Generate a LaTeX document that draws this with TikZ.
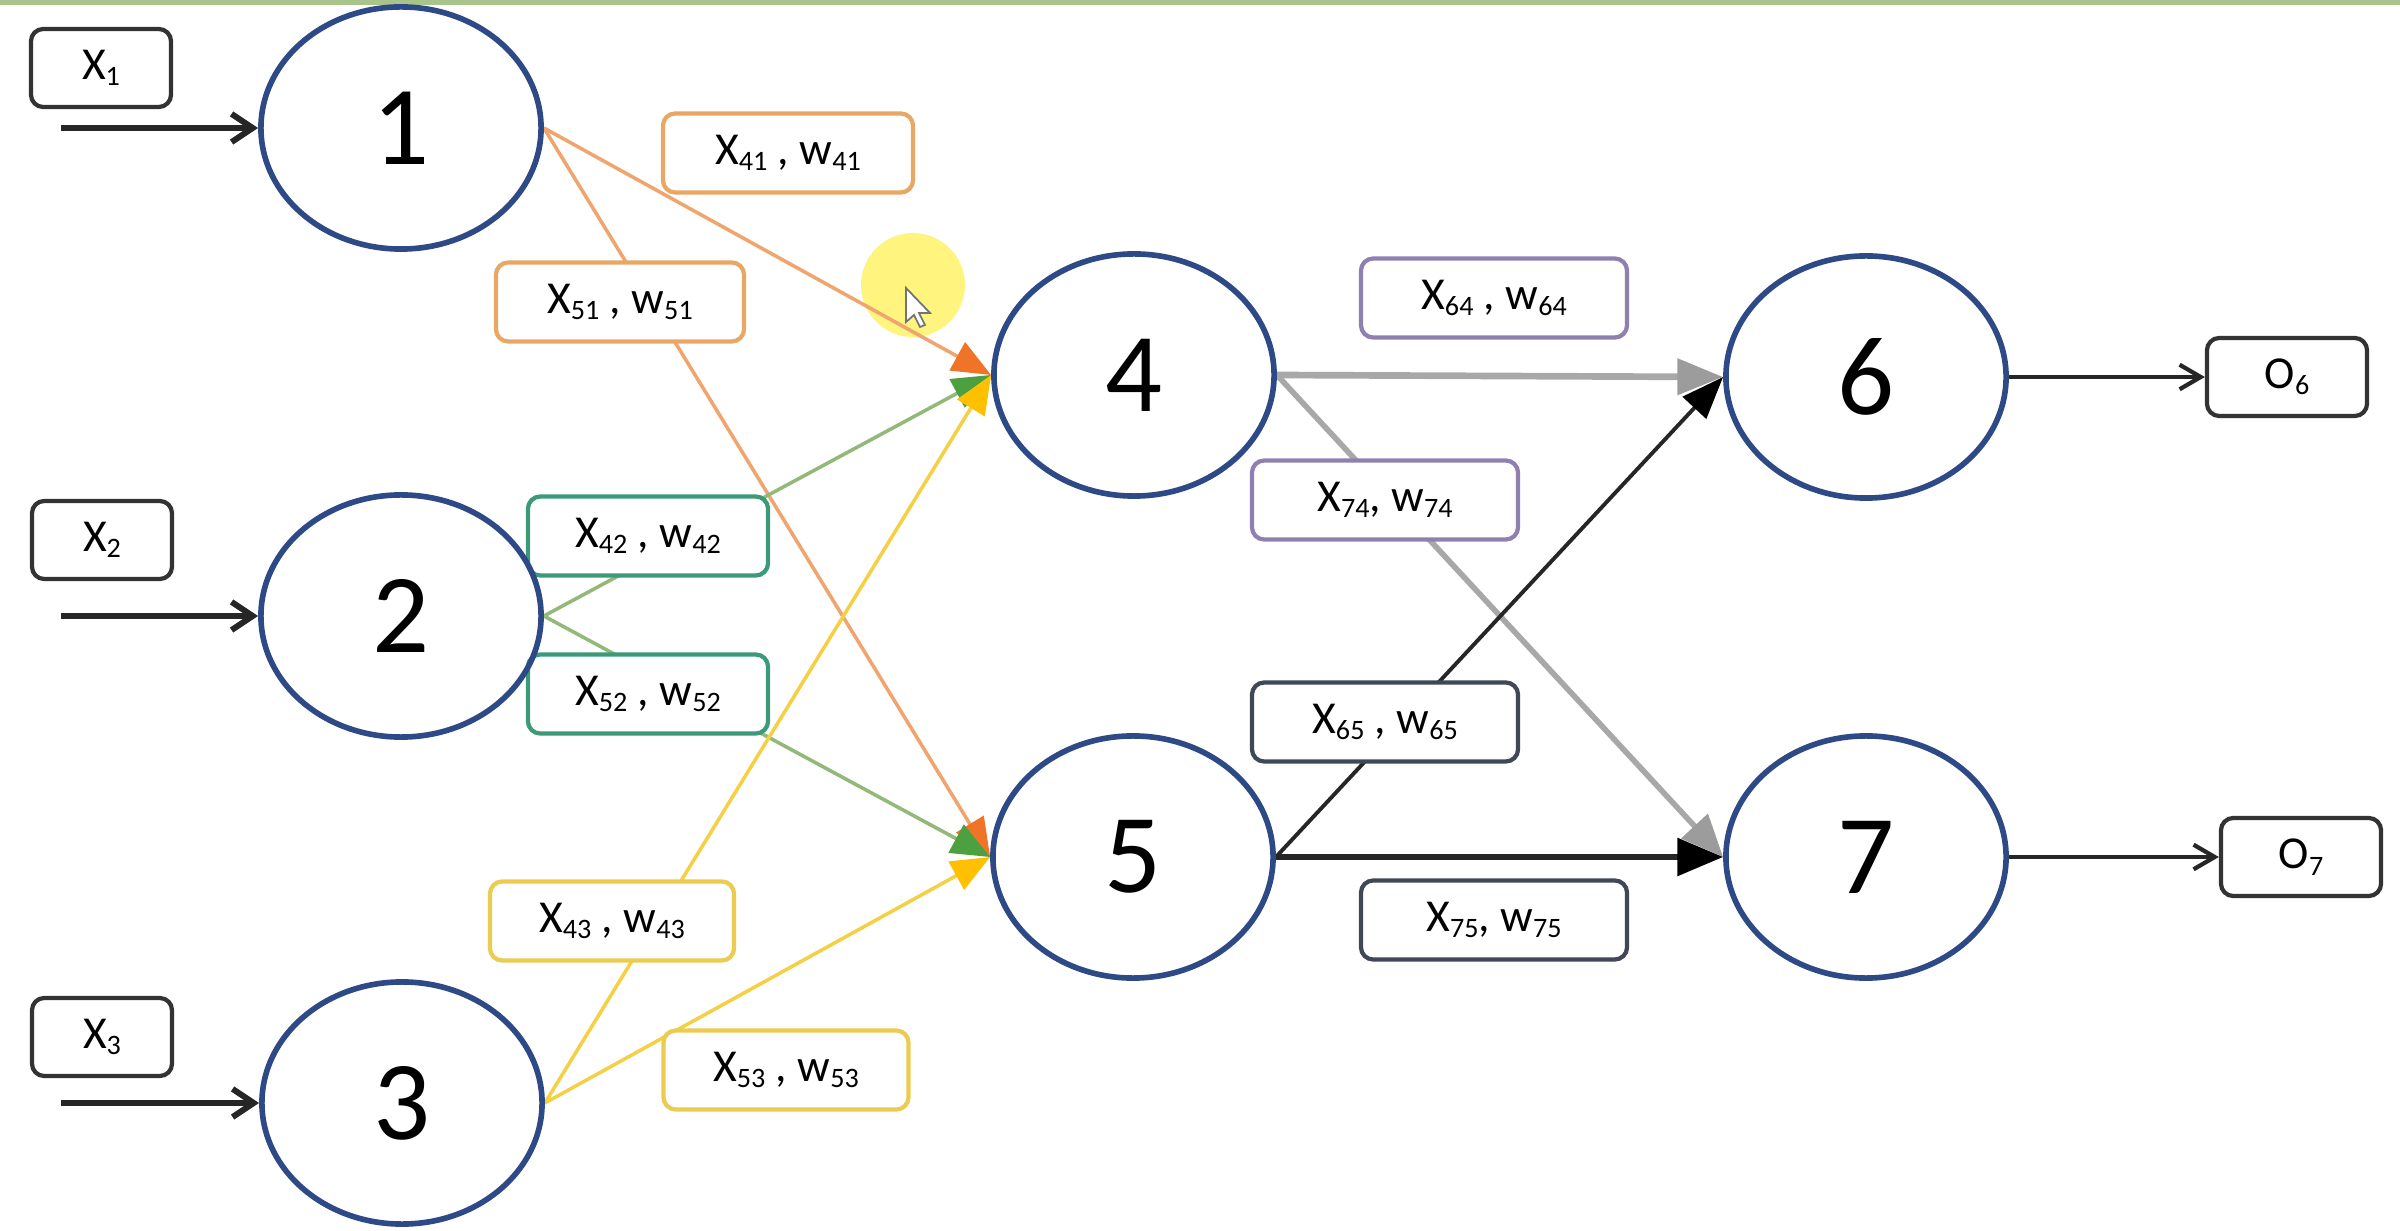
\documentclass[tikz,border=0pt]{standalone}
\usepackage{fontspec}
\setmainfont{Carlito}
\usetikzlibrary{arrows.meta,shapes.geometric}
\pgfdeclarelayer{back}
\pgfsetlayers{back,main}
\definecolor{nodeblue}{HTML}{2E4A86}
\definecolor{boxdark}{HTML}{333333}
\definecolor{orline}{HTML}{F0A46E}
\definecolor{orbox}{HTML}{E9A764}
\definecolor{orhead}{HTML}{F07428}
\definecolor{grline}{HTML}{92B87A}
\definecolor{grbox}{HTML}{3C9A78}
\definecolor{grhead}{HTML}{4CA040}
\definecolor{yeline}{HTML}{F5D045}
\definecolor{yebox}{HTML}{EBCB50}
\definecolor{yehead}{HTML}{FFC000}
\definecolor{pubox}{HTML}{9080B0}
\definecolor{nvbox}{HTML}{404858}
\definecolor{gyline}{HTML}{A8A8A8}
\definecolor{gyhead}{HTML}{9C9C9C}
\definecolor{bkline}{HTML}{262626}
\definecolor{topgreen}{HTML}{A9C48A}
\definecolor{hilite}{HTML}{FFF47E}
\newcommand\sbs[1]{\raisebox{-0.3ex}{\fontsize{8pt}{9pt}\selectfont #1}}
\newcommand\lblfont{\fontsize{13pt}{15pt}\selectfont}
\begin{document}
\begin{tikzpicture}[x=0.01cm,y=-0.01cm,
  neuron/.style={ellipse, draw=nodeblue, line width=1.6pt, minimum width=2.8cm,
    minimum height=2.42cm, inner sep=0pt, font=\fontsize{32pt}{36pt}\selectfont},
  iobox/.style={draw=boxdark, line width=1.2pt, rounded corners=3.5pt, fill=white,
    minimum width=1.4cm, minimum height=0.78cm, inner sep=0pt, font=\lblfont},
  wbox/.style={draw=#1, line width=1.2pt, rounded corners=3.5pt, fill=white,
    minimum height=0.79cm, inner sep=0pt, font=\lblfont},
  inarrow/.style={line width=1.7pt, draw=bkline, -{Straight Barb[length=6pt,width=8pt]}},
  outarrow/.style={line width=1.2pt, draw=bkline, -{Straight Barb[length=6pt,width=7pt]}},
  colconn/.style n args={2}{line width=1.0pt, draw=#1, -{Triangle[length=11pt,width=9pt,color=#2]}}
]
\useasboundingbox (0,0) rectangle (2400,1231);

% neurons
\node[neuron] (n1) at (401,128) {1};
\node[neuron] (n2) at (401,616) {2};
\node[neuron] (n3) at (402,1103) {3};
\node[neuron] (n4) at (1134,375) {4};
\node[neuron] (n5) at (1133,857) {5};
\node[neuron] (n6) at (1866,377) {6};
\node[neuron] (n7) at (1866,857) {7};

% inputs / outputs
\node[iobox] (x1) at (101,68) {X\sbs{1}};
\node[iobox] (x2) at (102,540) {X\sbs{2}};
\node[iobox] (x3) at (102,1037) {X\sbs{3}};
\node[iobox, minimum width=1.6cm] (o6) at (2287,377) {O\sbs{6}};
\node[iobox, minimum width=1.6cm] (o7) at (2301,857) {O\sbs{7}};

\coordinate (i1) at (61,128);
\coordinate (i2) at (61,616);
\coordinate (i3) at (61,1103);

\draw[inarrow] (i1) -- (n1.west);
\draw[inarrow] (i2) -- (n2.west);
\draw[inarrow] (i3) -- (n3.west);
\draw[outarrow] (n6.east) -- (o6.west);
\draw[outarrow] (n7.east) -- (o7.west);

\begin{pgfonlayer}{back}
  \fill[white] (0,0) rectangle (2400,1231);
  \fill[topgreen] (0,0) rectangle (2400,5);
  % cursor highlight
  \fill[hilite] (913,285) circle (52);
  % connections
  \draw[colconn={orline}{orhead}] (n1.east) -- (n5.west);
  \draw[colconn={grline}{grhead}] (n2.east) -- (n5.west);
  \draw[colconn={yeline}{yehead}] (n3.east) -- (n5.west);
  \draw[colconn={grline}{grhead}] (n2.east) -- (n4.west);
  \draw[colconn={yeline}{yehead}] (n3.east) -- (n4.west);
  \draw[colconn={orline}{orhead}] (n1.east) -- (n4.west);
  \draw[line width=1.6pt, draw=gyline, -{Triangle[length=12pt,width=10pt,color=gyhead]}] (n4.east) -- (n7.west);
  \draw[line width=1.1pt, draw=bkline, -{Triangle[length=12pt,width=9pt,color=black]}] (n5.east) -- (n6.west);
  \draw[line width=1.9pt, draw=gyline, -{Triangle[length=13pt,width=10pt,color=gyhead]}] (n4.east) -- (n6.west);
  \draw[line width=1.7pt, draw=bkline, -{Triangle[length=13pt,width=10.5pt,color=black]}] (n5.east) -- (n7.west);
  % cursor
  \filldraw[fill=white, draw=black!55, line width=0.5pt]
    (906,288) -- (906,322) -- (914,315) -- (920,327) -- (925,325) -- (919,313) -- (930,313) -- cycle;
  % weight labels
  \node[wbox=orbox, minimum width=2.5cm] (w41) at (788,153) {X\sbs{41} , w\sbs{41}};
  \node[wbox=orbox, minimum width=2.48cm] (w51) at (620,302) {X\sbs{51} , w\sbs{51}};
  \node[wbox=grbox, minimum width=2.4cm] (w42) at (648,536) {X\sbs{42} , w\sbs{42}};
  \node[wbox=grbox, minimum width=2.4cm] (w52) at (648,694) {X\sbs{52} , w\sbs{52}};
  \node[wbox=yebox, minimum width=2.44cm] (w43) at (612,921) {X\sbs{43} , w\sbs{43}};
  \node[wbox=yebox, minimum width=2.45cm] (w53) at (786,1070) {X\sbs{53} , w\sbs{53}};
  \node[wbox=pubox, minimum width=2.66cm] (w64) at (1494,298) {X\sbs{64} , w\sbs{64}};
  \node[wbox=pubox, minimum width=2.66cm] (w74) at (1385,500) {X\sbs{74}, w\sbs{74}};
  \node[wbox=nvbox, minimum width=2.66cm] (w65) at (1385,722) {X\sbs{65} , w\sbs{65}};
  \node[wbox=nvbox, minimum width=2.66cm] (w75) at (1494,920) {X\sbs{75}, w\sbs{75}};
\end{pgfonlayer}
\end{tikzpicture}
\end{document}
